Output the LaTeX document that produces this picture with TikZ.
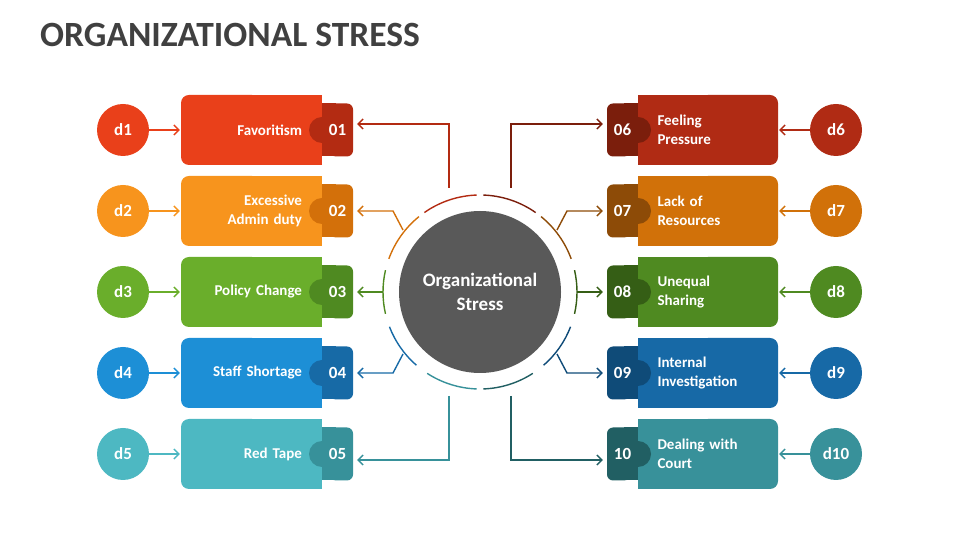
\documentclass[tikz,border=0pt]{standalone}
\usepackage{fontspec}
\setmainfont{Carlito}
\usetikzlibrary{arrows.meta,positioning}
\definecolor{main1}{HTML}{E9401A}\definecolor{tab1}{HTML}{B32B12}
\definecolor{main2}{HTML}{F7941D}\definecolor{tab2}{HTML}{D3700A}
\definecolor{main3}{HTML}{6AAE2B}\definecolor{tab3}{HTML}{4F8A21}
\definecolor{main4}{HTML}{1D8FD6}\definecolor{tab4}{HTML}{176AA6}
\definecolor{main5}{HTML}{4DB8C2}\definecolor{tab5}{HTML}{37919A}
\definecolor{main6}{HTML}{B02B14}\definecolor{tab6}{HTML}{7B1E0C}
\definecolor{main7}{HTML}{D17109}\definecolor{tab7}{HTML}{8D4B07}
\definecolor{main8}{HTML}{4F8A21}\definecolor{tab8}{HTML}{355E15}
\definecolor{main9}{HTML}{1769A6}\definecolor{tab9}{HTML}{0F4B78}
\definecolor{main10}{HTML}{38919A}\definecolor{tab10}{HTML}{215F63}
\definecolor{hubgray}{HTML}{595959}
\definecolor{titlegray}{HTML}{404040}
\tikzset{
  conn/.style={line width=1.4pt,-{Straight Barb[length=5pt,width=10pt]}},
  dcirc/.style={circle,minimum size=52pt,inner sep=0pt,text=white,font=\bfseries\fontsize{17}{17}\selectfont},
  numtxt/.style={minimum width=31pt,minimum height=53pt,inner sep=0pt,text=white,font=\bfseries\fontsize{17}{17}\selectfont},
  lbl/.style={minimum height=70pt,text width=101pt,inner ysep=0pt,text=white,font=\bfseries\fontsize{15}{19}\selectfont},
}
\begin{document}
\begin{tikzpicture}[x=1pt,y=1pt]
\useasboundingbox (0,0) rectangle (960,540);
\node[anchor=base west,inner sep=0pt,text=titlegray,font=\bfseries\fontsize{35.5}{35.5}\selectfont] (title) at (40,493) {ORGANIZATIONAL STRESS};

\foreach \i/\y/\txt in {1/410/Favoritism,2/329/{Excessive\\Admin duty},3/248/Policy Change,4/167/Staff Shortage,5/86/Red Tape}{
  \fill[main\i,rounded corners=8pt] (181,\y-35) rectangle (260,\y+35);
  \fill[main\i] (250,\y-35) rectangle (322,\y+35);
  \fill[tab\i] (322,\y) circle (13);
  \fill[tab\i,rounded corners=6pt] (330,\y-26.5) rectangle (353,\y+26.5);
  \fill[tab\i] (322,\y-26.5) rectangle (336,\y+26.5);
  \node[lbl,inner xsep=20pt,align=right] (b\i) at (251.5,\y) {\txt};
  \node[numtxt] (t\i) at (337.5,\y) {0\i};
  \node[dcirc,fill=main\i] (d\i) at (123,\y) {d\i};
  \draw[conn,main\i,shorten >=1pt] (d\i) -- (b\i);
}
\foreach \i/\y/\n/\txt in {6/410/06/{Feeling\\Pressure},7/329/07/{Lack of\\Resources},8/248/08/{Unequal\\Sharing},9/167/09/{Internal\\Investigation},10/86/10/{Dealing with\\Court}}{
  \fill[main\i,rounded corners=8pt] (700,\y-35) rectangle (778,\y+35);
  \fill[main\i] (638,\y-35) rectangle (710,\y+35);
  \fill[tab\i] (638,\y) circle (13);
  \fill[tab\i,rounded corners=6pt] (607,\y-26.5) rectangle (630,\y+26.5);
  \fill[tab\i] (624,\y-26.5) rectangle (638,\y+26.5);
  \node[lbl,inner xsep=19.5pt,align=left] (b\i) at (708,\y) {\txt};
  \node[numtxt] (t\i) at (622.5,\y) {\n};
  \node[dcirc,fill=main\i] (d\i) at (836,\y) {d\i};
  \draw[conn,main\i,shorten >=1pt] (d\i) -- (b\i);
}

\node[circle,fill=hubgray,minimum size=162pt,inner sep=0pt,align=center,text=white,font=\bfseries\fontsize{19}{24}\selectfont] (hub) at (480,248) {Organizational\\Stress};
\foreach \i/\a/\b in {1/92/125,2/129/160,3/167/193,4/201/229,5/237/268,6/55/88,7/20/51,8/-13/13,9/-49/-21,10/-88/-57}
  \draw[tab\i,line width=1.4pt] ([shift={(\a:97)}]hub.center) arc[start angle=\a,end angle=\b,radius=97];

\coordinate (r1) at (449,352);
\coordinate (r2) at (403,310);
\coordinate (r3) at (383,248);
\coordinate (r4) at (403,186);
\coordinate (r5) at (449,144);
\coordinate (r6) at (511,352);
\coordinate (r7) at (557,310);
\coordinate (r8) at (577,248);
\coordinate (r9) at (557,186);
\coordinate (r10) at (511,144);
\draw[conn,tab1] (r1) |- ([xshift=4pt,yshift=6pt]t1.east);
\draw[conn,tab2] (r2) -- ++(-10,19) -- ([xshift=4pt]t2.east);
\draw[conn,tab3] (r3) -- ([xshift=4pt]t3.east);
\draw[conn,tab4] (r4) -- ++(-10,-19) -- ([xshift=4pt]t4.east);
\draw[conn,tab5] (r5) |- ([xshift=4pt,yshift=-6pt]t5.east);
\draw[conn,tab6] (r6) |- ([xshift=-4pt,yshift=6pt]t6.west);
\draw[conn,tab7] (r7) -- ++(10,19) -- ([xshift=-4pt]t7.west);
\draw[conn,tab8] (r8) -- ([xshift=-4pt]t8.west);
\draw[conn,tab9] (r9) -- ++(10,-19) -- ([xshift=-4pt]t9.west);
\draw[conn,tab10] (r10) |- ([xshift=-4pt,yshift=-6pt]t10.west);
\end{tikzpicture}
\end{document}
